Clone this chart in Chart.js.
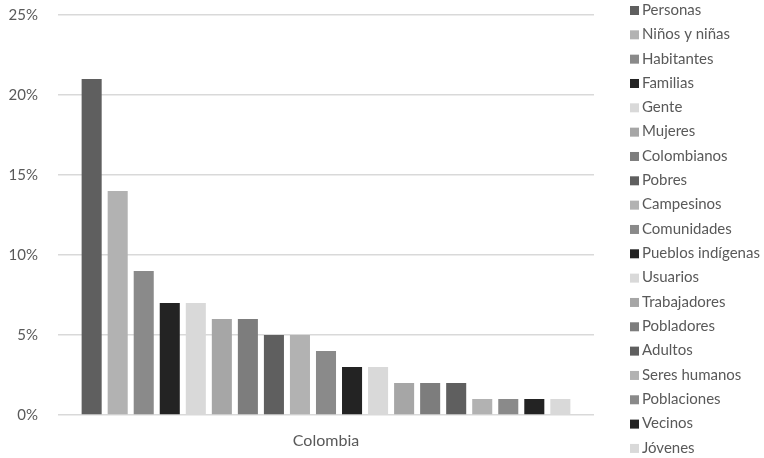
<!DOCTYPE html>
<html>
<head>
<meta charset="utf-8">
<script src="https://cdn.jsdelivr.net/npm/chart.js@4"></script>
<style>
  html, body { margin: 0; padding: 0; background: #fff; overflow: hidden; }
</style>
</head>
<body>
<canvas id="chart" width="764" height="458"></canvas>
<script>
// Chart data
const categories = ['Colombia'];
const seriesNames = ['Personas', 'Niños y niñas', 'Habitantes', 'Familias', 'Gente', 'Mujeres',
  'Colombianos', 'Pobres', 'Campesinos', 'Comunidades', 'Pueblos indígenas', 'Usuarios',
  'Trabajadores', 'Pobladores', 'Adultos', 'Seres humanos', 'Poblaciones', 'Vecinos', 'Jóvenes'];
const seriesValues = [21, 14, 9, 7, 7, 6, 6, 5, 5, 4, 3, 3, 2, 2, 2, 1, 1, 1, 1];
const yTicks = [0, 5, 10, 15, 20, 25];

// gray palette repeats every 7 series
const grays = ['#5f5f5f', '#b2b2b2', '#8a8a8a', '#232323', '#d9d9d9', '#a6a6a6', '#7d7d7d'];
const textColor = '#595959';
const fontFamily = 'Lato, "Open Sans", sans-serif';

const datasets = seriesNames.map((name, i) => ({
    label: name,
    data: [seriesValues[i]],
    backgroundColor: grays[i % grays.length],
    categoryPercentage: 0.923,
    barPercentage: 0.77
}));

// Legend drawn on the right, one row per series
const sideLegend = {
    id: 'sideLegend',
    afterDraw(chart) {
        const ctx = chart.ctx;
        ctx.save();
        ctx.font = '15px ' + fontFamily;
        ctx.textBaseline = 'middle';
        chart.data.datasets.forEach((ds, i) => {
            const y = 10 + i * 24.33;
            ctx.fillStyle = ds.backgroundColor;
            ctx.fillRect(630, y - 4, 9, 9);
            ctx.fillStyle = textColor;
            ctx.fillText(ds.label, 642, y);
        });
        ctx.restore();
    }
};

new Chart(document.getElementById('chart'), {
    type: 'bar',
    data: { labels: categories, datasets: datasets },
    options: {
        responsive: false,
        animation: false,
        layout: { padding: { left: 0, right: 170, top: 15, bottom: 8 } },
        plugins: {
            legend: { display: false },
            tooltip: { enabled: false }
        },
        scales: {
            x: {
                afterFit: axis => { axis.height = 35; },
                grid: { display: false, drawTicks: false },
                border: { display: false },
                ticks: { color: textColor, font: { family: fontFamily, size: 16 }, padding: 16 }
            },
            y: {
                min: 0,
                max: 25,
                afterBuildTicks: axis => { axis.ticks = yTicks.map(v => ({ value: v })); },
                afterFit: axis => {
                    axis.width = 58;
                    // label padding otherwise pushes the plot area down
                    axis.paddingTop = 0;
                    axis.paddingBottom = 0;
                },
                grid: { color: '#d9d9d9', lineWidth: 1.5, drawTicks: false },
                border: { display: false },
                ticks: {
                    color: textColor,
                    font: { family: fontFamily, size: 15 },
                    padding: 20,
                    callback: v => v + '%'
                }
            }
        }
    },
    plugins: [sideLegend]
});
</script>
</body>
</html>
